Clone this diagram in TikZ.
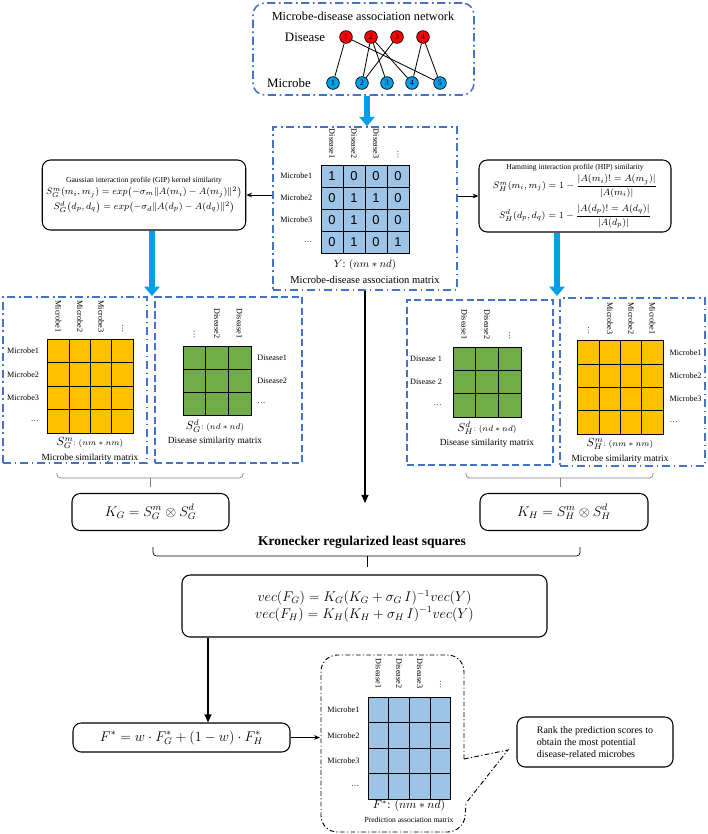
\documentclass[tikz,border=0pt]{standalone}
\usepackage{amsmath}
\usepackage{amssymb}
\usepackage{fontspec}
\setmainfont{Liberation Serif}
\newfontfamily\cellfont{Liberation Sans}
\usetikzlibrary{positioning,matrix,fit,arrows.meta}

\definecolor{frameblue}{RGB}{68,114,196}
\definecolor{cellblue}{RGB}{157,195,230}
\definecolor{cellyellow}{RGB}{255,192,0}
\definecolor{cellgreen}{RGB}{112,173,71}
\definecolor{arrowblue}{RGB}{0,160,233}
\definecolor{nodered}{RGB}{255,0,0}

\begin{document}
\begin{tikzpicture}[x=0.03cm,y=-0.03cm,
blueframe/.style={draw=frameblue,line width=1.3pt,inner sep=0pt},
dashdot/.style={blueframe,dash pattern=on 7pt off 3pt on 1.5pt off 3pt},
dashbox/.style={blueframe,dash pattern=on 6pt off 3pt},
formbox/.style={draw,rounded corners=7pt,line width=0.9pt,align=center},
gridcell/.style={draw,line width=0.6pt,inner sep=0pt},
cellmat/.style={matrix of nodes,nodes in empty cells,column sep=-0.6pt,row sep=-0.6pt},
rowtext/.style={font=\fontsize{7}{8}\selectfont,inner sep=1pt},
coltext/.style={rowtext,rotate=-90,anchor=east},
captext/.style={font=\fontsize{8}{9}\selectfont,inner sep=1pt},
vertex/.style={circle,draw,line width=0.6pt,inner sep=0pt,minimum size=0.38cm,font=\fontsize{7}{8}\selectfont},
bluearrow/.style={draw=arrowblue,line width=5pt,-{Triangle[length=8pt,width=13pt]}},
conn/.style={line width=0.8pt,-{Stealth[length=5pt,width=4pt]}},
bigarrow/.style={line width=1.3pt,-{Triangle[length=7pt,width=6pt]}},
bracket/.style={line width=0.6pt,rounded corners=3pt},
predframe/.style={draw,line width=0.8pt,dash pattern=on 4pt off 2pt on 1pt off 2pt}]
\useasboundingbox (0,0) rectangle (708,834);

% network
\node (netbox) [dashdot,rounded corners=10pt,fit={(253,3) (474,95)}] {};
\node (nettitle) [font=\fontsize{10.5}{12}\selectfont] at (363,16) {Microbe-disease association network};
\node (dislabel) [font=\fontsize{11}{12}\selectfont] at (305,37) {Disease};
\node (miclabel) [font=\fontsize{11}{12}\selectfont] at (289,83) {Microbe};
\foreach \x [count=\i] in {346,371,397,423}
  \node (d\i) [vertex,fill=nodered] at (\x,37) {\i};
\foreach \x [count=\i] in {333,362,387,412,440}
  \node (m\i) [vertex,fill=arrowblue] at (\x,83) {\i};
\foreach \a/\b in {1/1,1/5,2/2,2/3,2/4,3/2,4/4,4/5}
  \draw[line width=0.7pt] (d\a) -- (m\b);

% association matrix Y
\node (ybox) [dashdot,fit={(273,127) (457,290)}] {};
\matrix (ymat) [cellmat,nodes={gridcell,fill=cellblue,minimum width=0.66cm,minimum height=0.66cm,font=\cellfont\fontsize{11}{12}\selectfont}] at (365,209) {
1 & 0 & 0 & 0 \\
0 & 1 & 1 & 0 \\
0 & 1 & 0 & 0 \\
0 & 1 & 0 & 1 \\
};
\foreach \t [count=\i] in {Microbe1,Microbe2,Microbe3,\dots}
  \node (yrow\i) [rowtext,left=6pt of ymat-\i-1] {\t};
\foreach \t [count=\i] in {Disease1,Disease2,Disease3,\dots}
  \node (ycol\i) [above=4pt of ymat-1-\i,coltext] {\t};
\node (ycap) [font=\small,inner sep=1pt] at (365,265) {$Y$: $(nm*nd)$};
\node (yname) [font=\fontsize{9}{10}\selectfont,inner sep=1pt] at (365,280) {Microbe-disease association matrix};
\draw[bluearrow] (367,0 |- netbox.south) -- (367,0 |- ybox.north);

% GIP and HIP similarity
\node (gip) [formbox,minimum width=6.06cm,minimum height=2.1cm,font=\footnotesize] at (144,195) {{\fontsize{6.5}{8}\selectfont Gaussian interaction profile (GIP) kernel similarity}\\[1pt]
$S_G^m(m_i,m_j)=exp\bigl(-\sigma_m\|A(m_i)-A(m_j)\|^2\bigr)$\\[2pt]
$S_G^d\bigl(d_p,d_q\bigr)=exp\bigl(-\sigma_d\|A(d_p)-A(d_q)\|^2\bigr)$};
\node (hip) [formbox,minimum width=5.76cm,minimum height=2.16cm,font=\footnotesize] at (575,196) {{\fontsize{6.5}{8}\selectfont Hamming interaction profile (HIP) similarity}\\[2pt]
$S_H^m(m_i,m_j)=1-\dfrac{|A(m_i)!=A(m_j)|}{|A(m_i)|}$\\[5pt]
$S_H^d(d_p,d_q)=1-\dfrac{|A(d_p)!=A(d_q)|}{|A(d_p)|}$};
\draw[conn] (ybox.west |- gip.east) -- (gip.east);
\draw[conn] (ybox.east |- hip.west) -- (hip.west);
\coordinate (gtip) at (152,296);
\coordinate (htip) at (557,296);
\draw[bluearrow] (gtip |- gip.south) -- (gtip);
\draw[bluearrow] (htip |- hip.south) -- (htip);

% GIP matrices
\node (gmbox) [dashdot,fit={(3,297) (147,463)}] {};
\node (gdbox) [dashbox,fit={(155,297) (302,463)}] {};
\matrix (gm) [cellmat,nodes={gridcell,fill=cellyellow,minimum width=0.64cm,minimum height=0.705cm}] at (90.5,386) {
 & & & \\
 & & & \\
 & & & \\
 & & & \\
};
\foreach \t [count=\i] in {Microbe1,Microbe2,Microbe3,\dots}{
  \node (gmrow\i) [rowtext,left=6pt of gm-\i-1] {\t};
  \node (gmcol\i) [above=4pt of gm-1-\i,coltext] {\t};}
\node (gmcap) [inner sep=1pt] at (90,443) {$S_G^m${\scriptsize$:(nm*nm)$}};
\node (gmname) [captext] at (90,458) {Microbe similarity matrix};
\matrix (gd) [cellmat,nodes={gridcell,fill=cellgreen,minimum width=0.68cm,minimum height=0.69cm}] at (217,380.5) {
 & & \\
 & & \\
 & & \\
};
\foreach \t [count=\i] in {Disease1,Disease2,\dots}
  \node (gdrow\i) [rowtext,right=4pt of gd-\i-3] {\t};
\foreach \t [count=\i] in {\dots,Disease2,Disease1}
  \node (gdcol\i) [above=5pt of gd-1-\i,coltext] {\t};
\node (gdcap) [inner sep=1pt] at (215,426) {$S_G^d${\scriptsize$:(nd*nd)$}};
\node (gdname) [captext] at (215,441) {Disease similarity matrix};
\draw[bracket,gray] (57,473) -- (57,478) -- (243,478) -- (243,473);
\draw[line width=0.6pt,gray] (150,478) -- (150,487);
\node (kg) [formbox,minimum width=4.71cm,minimum height=1.11cm,font=\large] at (150.5,512) {$K_G=S_G^m\otimes S_G^d$};

% HIP matrices
\node (hdbox) [dashbox,fit={(407,300) (553,465)}] {};
\node (hmbox) [dashdot,fit={(560,298) (705,466)}] {};
\matrix (hd) [cellmat,nodes={gridcell,fill=cellgreen,minimum width=0.68cm,minimum height=0.7cm}] at (487,382) {
 & & \\
 & & \\
 & & \\
};
\foreach \t [count=\i] in {Disease 1,Disease 2,\dots}
  \node (hdrow\i) [rowtext,left=8pt of hd-\i-1] {\t};
\foreach \t [count=\i] in {Disease1,Disease2,\dots}
  \node (hdcol\i) [above=5pt of hd-1-\i,coltext] {\t};
\node (hdcap) [inner sep=1pt] at (487,428) {$S_H^d${\scriptsize$:(nd*nd)$}};
\node (hdname) [captext] at (487,443) {Disease similarity matrix};
\matrix (hm) [cellmat,nodes={gridcell,fill=cellyellow,minimum width=0.64cm,minimum height=0.7cm}] at (620.5,387.5) {
 & & & \\
 & & & \\
 & & & \\
 & & & \\
};
\foreach \t [count=\i] in {Microbe1,Microbe2,Microbe3,\dots}
  \node (hmrow\i) [rowtext,right=4pt of hm-\i-4] {\t};
\foreach \t [count=\i] in {\dots,Microbe3,Microbe2,Microbe1}
  \node (hmcol\i) [above=4pt of hm-1-\i,coltext] {\t};
\node (hmcap) [inner sep=1pt] at (620,444) {$S_H^m${\scriptsize$:(nm*nm)$}};
\node (hmname) [captext] at (620,459) {Microbe similarity matrix};
\draw[bracket,gray] (466,473) -- (466,478) -- (653,478) -- (653,473);
\draw[line width=0.6pt,gray] (560,478) -- (560,487);
\node (kh) [formbox,minimum width=5.04cm,minimum height=1.11cm,font=\large] at (564,512) {$K_H=S_H^m\otimes S_H^d$};

% Kronecker RLS
\coordinate (ytip) at (365,503);
\draw[bigarrow] (ybox.south) -- (ytip);
\node (krlsname) [font=\bfseries\fontsize{11.5}{13}\selectfont] at (362,542) {Kronecker regularized least squares};
\draw[bracket] (153,547) -- (153,556) -- (580,556) -- (580,547);
\draw[line width=0.6pt] (367,556) -- (367,567);
\node (krls) [formbox,minimum width=10.95cm,minimum height=1.86cm,font=\large] at (364.5,606) {$vec(F_G)=K_G(K_G+\sigma_G\,I)^{-1}vec(Y)$\\
$vec(F_H)=K_H(K_H+\sigma_H\,I)^{-1}vec(Y)$};

% final scores
\node (fstar) [formbox,minimum width=6.51cm,minimum height=0.87cm,font=\large] at (181.5,737.5) {$F^*=w\cdot F_G^*+(1-w)\cdot F_H^*$};
\draw[bigarrow] (208,0 |- krls.south) -- (208,0 |- fstar.north);
\coordinate (predw) at (320,0 |- fstar.east);
\draw[conn] (fstar.east) -- (predw);

% prediction matrix
\coordinate (ptr) at (508,750);
\draw[predframe,rounded corners=14pt] (464,759) -- (464,655) -- (321,655) -- (321,832) -- (464,832) -- (466,803);
\draw[predframe] (464,759) -- (ptr) -- (466,803);
\matrix (pm) [cellmat,nodes={gridcell,fill=cellblue,minimum width=0.62cm,minimum height=0.765cm}] at (409.5,748) {
 & & & \\
 & & & \\
 & & & \\
 & & & \\
};
\foreach \t [count=\i] in {Microbe1,Microbe2,Microbe3,\dots}
  \node (pmrow\i) [rowtext,left=6pt of pm-\i-1] {\t};
\foreach \t [count=\i] in {Disease1,Disease2,Disease3,\dots}
  \node (pmcol\i) [above=6pt of pm-1-\i,coltext] {\t};
\node (pmcap) [inner sep=1pt] at (409,806) {$F^*$: $(nm*nd)$};
\node (pmname) [font=\fontsize{6.5}{8}\selectfont,inner sep=1pt] at (409,820) {Prediction association matrix};
\node (rank) [formbox,align=left,minimum width=4.68cm,minimum height=1.5cm,font=\fontsize{8.5}{10}\selectfont] at (595,742) {Rank the prediction scores to\\obtain the most potential\\disease-related microbes};
\end{tikzpicture}
\end{document}
